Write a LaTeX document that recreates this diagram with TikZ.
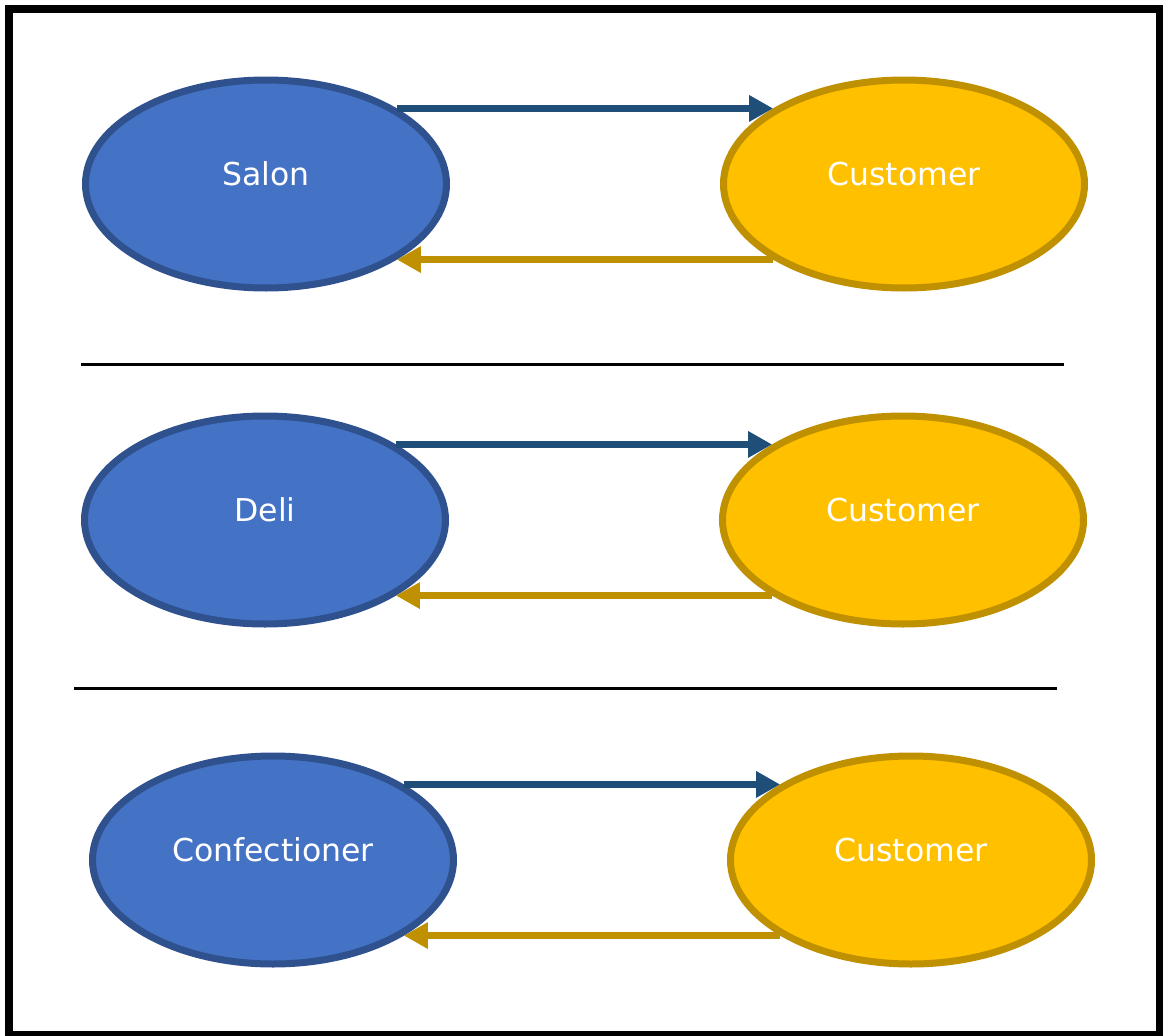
\documentclass[tikz,border=0pt]{standalone}
\usepackage{fontspec}
\setmainfont{DejaVu Sans}
\usetikzlibrary{shapes.geometric,arrows.meta}
\definecolor{bfill}{HTML}{4472C4}
\definecolor{bline}{HTML}{2F528F}
\definecolor{yfill}{HTML}{FFC000}
\definecolor{yline}{HTML}{BF9000}
\definecolor{barrow}{HTML}{1F4E79}
\tikzset{
  oval/.style={ellipse, minimum width=361pt, minimum height=208pt, inner sep=0pt, line width=7pt},
  bizoval/.style={oval, fill=bfill, draw=bline},
  custoval/.style={oval, fill=yfill, draw=yline},
  lbl/.style={text=white, font=\fontsize{31.5}{31.5}\selectfont, text height=23pt, text depth=0pt, inner sep=0pt},
  fwd/.style={draw=barrow, line width=7.5pt, -{Triangle[length=24pt,width=25pt]}},
  bwd/.style={draw=yline, line width=7.5pt, -{Triangle[length=24pt,width=25pt]}},
  sep/.style={line width=3pt, black}
}
\begin{document}
\begin{tikzpicture}[x=1pt,y=-1pt]
\useasboundingbox (0,0) rectangle (1163,1036);
\draw[line width=7.5pt] (9,9) rectangle (1160,1035);
% row 1
\node[bizoval, label={[lbl,yshift=10pt]center:Salon}] (s1) at (266,184) {};
\node[custoval, label={[lbl,yshift=10pt]center:Customer}] (c1) at (904,184) {};
\draw[fwd] (s1.30) -- (c1.150);
\draw[bwd] (c1.210) -- (s1.-30);
% separator 1
\coordinate (a1) at (81,364);
\coordinate (b1) at (1064,364);
\draw[sep] (a1) -- (b1);
% row 2
\node[bizoval, label={[lbl,yshift=10pt]center:Deli}] (s2) at (265,520) {};
\node[custoval, label={[lbl,yshift=10pt]center:Customer}] (c2) at (903,520) {};
\draw[fwd] (s2.30) -- (c2.150);
\draw[bwd] (c2.210) -- (s2.-30);
% separator 2
\coordinate (a2) at (74,688);
\coordinate (b2) at (1057,688);
\draw[sep] (a2) -- (b2);
% row 3
\node[bizoval, label={[lbl,yshift=10pt]center:Confectioner}] (s3) at (273,860) {};
\node[custoval, label={[lbl,yshift=10pt]center:Customer}] (c3) at (911,860) {};
\draw[fwd] (s3.30) -- (c3.150);
\draw[bwd] (c3.210) -- (s3.-30);
\end{tikzpicture}
\end{document}
